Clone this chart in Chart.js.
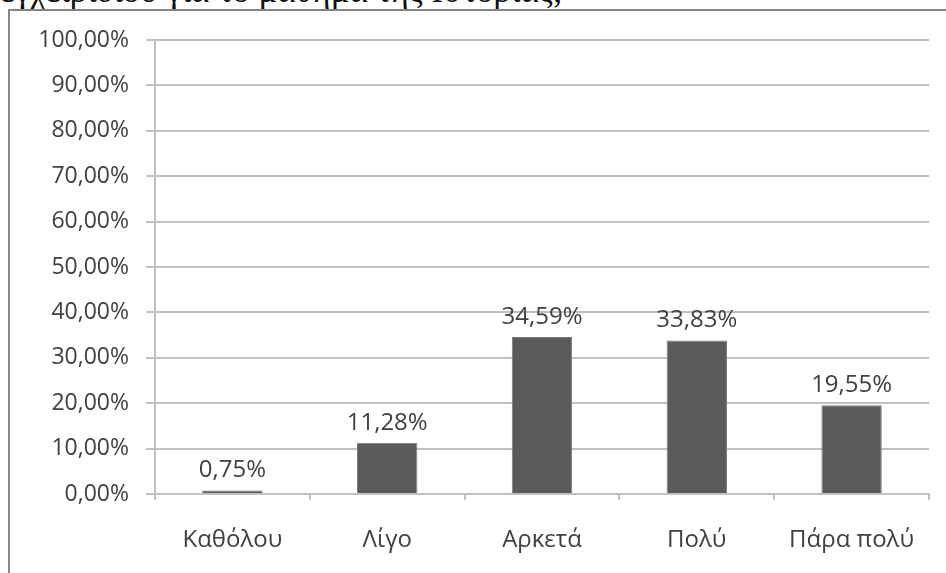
<!DOCTYPE html>
<html>
<head>
<meta charset="utf-8">
<script src="https://cdn.jsdelivr.net/npm/chart.js@4"></script>
<style>
    html, body { margin: 0; padding: 0; background: #fff; }
    body { width: 946px; height: 573px; position: relative; overflow: hidden; }
    #caption {
        position: absolute; left: 0; top: -26px; line-height: 34px;
        font-family: 'Liberation Serif', 'DejaVu Serif', serif; font-size: 35px; color: #111;
        white-space: nowrap;
    }
    #frame {
        position: absolute; left: 8px; top: 9px; width: 960px; height: 600px;
        border-top: 2px solid #858585; border-left: 2px solid #858585;
    }
    #wrap { position: absolute; left: 0; top: 0; width: 946px; height: 573px; }
</style>
</head>
<body>
<div id="caption">εγχειριδίου για το μάθημα της Ιστορίας;</div>
<div id="frame"></div>
<div id="wrap"><canvas id="chart"></canvas></div>
<script>
const categories = ['Καθόλου', 'Λίγο', 'Αρκετά', 'Πολύ', 'Πάρα πολύ'];
const values = [0.75, 11.28, 34.59, 33.83, 19.55];
const valueLabels = ['0,75%', '11,28%', '34,59%', '33,83%', '19,55%'];
const yTickLabels = ['0,00%', '10,00%', '20,00%', '30,00%', '40,00%', '50,00%',
                     '60,00%', '70,00%', '80,00%', '90,00%', '100,00%'];

let textGrey = '#404040';
let gridGrey = '#c0c0c0';
let barGrey = '#5a5a5a';
let fontFamily = 'Open Sans';

// labels over the bars
const barLabels = {
    id: 'barLabels',
    afterDatasetsDraw(chart) {
        const ctx = chart.ctx;
        const meta = chart.getDatasetMeta(0);
        ctx.save();
        ctx.fillStyle = textGrey;
        ctx.font = '24px ' + fontFamily;
        ctx.textAlign = 'center';
        ctx.textBaseline = 'bottom';
        meta.data.forEach((bar, i) => {
            ctx.fillText(valueLabels[i], bar.x, bar.y - 8);
        });
        ctx.restore();
    }
};

const ctx = document.getElementById('chart').getContext('2d');

const myChart = new Chart(ctx, {
    type: 'bar',
    data: {
        labels: categories,
        datasets: [{
            data: values,
            backgroundColor: barGrey,
            borderColor: '#7a7a7a',
            borderWidth: 1,
            barPercentage: 0.39,
            categoryPercentage: 1,
        }]
    },
    plugins: [barLabels],
    options: {
        responsive: true,
        maintainAspectRatio: false,
        animation: false,
        layout: {
            padding: { top: 40, right: 17, left: 0, bottom: 0 }
        },
        plugins: {
            legend: { display: false },
            tooltip: { enabled: false },
        },
        scales: {
            x: {
                afterFit(scale) { scale.height = 79; },
                grid: {
                    offset: true,
                    drawOnChartArea: false,
                    drawTicks: true,
                    tickLength: 6,
                    color: gridGrey,
                    lineWidth: 2,
                },
                border: { color: gridGrey, width: 2 },
                ticks: {
                    color: textGrey,
                    padding: 26,
                    font: { family: fontFamily, size: 24 },
                }
            },
            y: {
                min: 0,
                max: 100,
                afterFit(scale) { scale.width = 155; },
                grid: {
                    color: gridGrey,
                    lineWidth: 2,
                    tickLength: 9,
                },
                border: { color: gridGrey, width: 2 },
                ticks: {
                    stepSize: 10,
                    color: textGrey,
                    padding: 17,
                    font: { family: fontFamily, size: 23 },
                    callback: (v, i) => yTickLabels[i],
                }
            }
        }
    }
});
</script>
</body>
</html>
